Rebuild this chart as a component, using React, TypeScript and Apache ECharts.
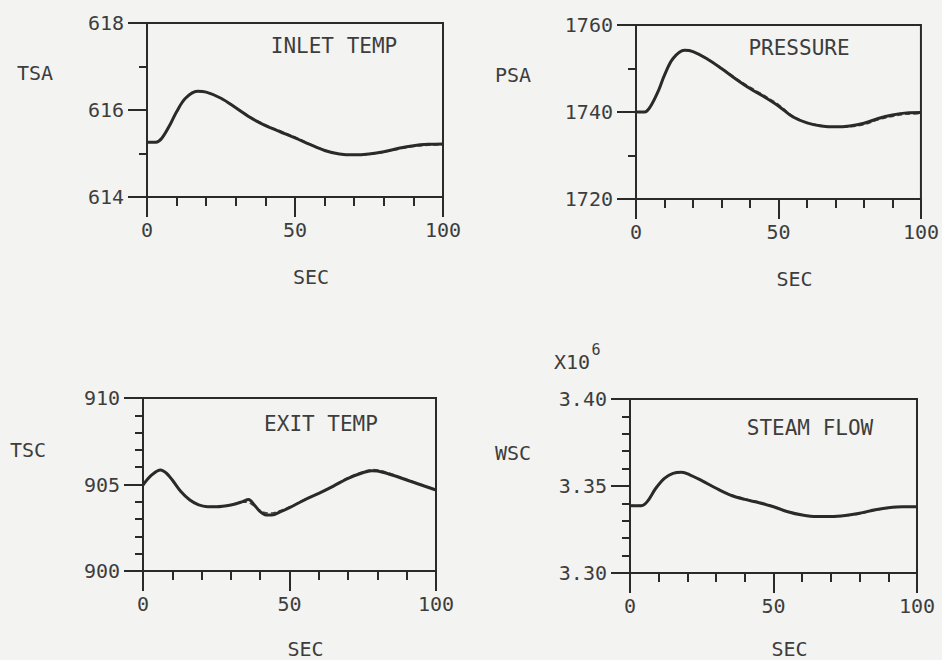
import { useEffect, useRef } from "react";
import * as echarts from "echarts";

const FONT = "DejaVu Sans Mono";
const INK = "#2a2a2a";
const TEXT = "#3d3d3d";
const PAPER = "#f3f3f1";

// Time axis shared by every panel (seconds)
const secTicks = [0, 50, 100];

// Inlet temperature TSA
const tsaSec = [0, 3, 5, 8, 10, 13, 17, 20, 25, 30, 35, 40, 45, 50, 55, 60, 65, 70, 75, 80, 85, 90, 95, 100];
const tsaVal = [615.26, 615.26, 615.35, 615.69, 615.96, 616.27, 616.43, 616.41, 616.27, 616.05, 615.82, 615.64, 615.5, 615.36, 615.21, 615.07, 614.99, 614.97, 614.99, 615.04, 615.12, 615.18, 615.21, 615.22];
const tsaAlt = [615.26, 615.26, 615.35, 615.69, 615.96, 616.27, 616.43, 616.41, 616.27, 616.06, 615.84, 615.66, 615.52, 615.38, 615.22, 615.08, 614.99, 614.96, 614.98, 615.03, 615.1, 615.16, 615.19, 615.2];

// Pressure PSA
const psaSec = [0, 3, 5, 8, 10, 13, 17, 20, 25, 30, 35, 40, 45, 50, 55, 60, 65, 70, 75, 80, 85, 90, 95, 100];
const psaVal = [1740.0, 1740.0, 1741.2, 1745.1, 1748.5, 1752.3, 1754.2, 1753.9, 1752.2, 1750.0, 1747.6, 1745.4, 1743.5, 1741.4, 1738.9, 1737.5, 1736.8, 1736.6, 1736.8, 1737.4, 1738.5, 1739.3, 1739.8, 1739.9];
const psaAlt = [1740.0, 1740.0, 1741.2, 1745.1, 1748.5, 1752.3, 1754.2, 1753.9, 1752.2, 1750.1, 1747.8, 1745.7, 1743.8, 1741.7, 1739.1, 1737.6, 1736.9, 1736.5, 1736.6, 1737.1, 1738.2, 1739.0, 1739.5, 1739.6];

// Exit temperature TSC
const tscSec = [0, 3, 6, 8, 10, 13, 16, 19, 22, 25, 30, 34, 36, 38, 40, 42, 44, 47, 50, 55, 60, 65, 70, 75, 78, 80, 85, 90, 95, 100];
const tscVal = [904.97, 905.55, 905.84, 905.65, 905.26, 904.58, 904.1, 903.82, 903.72, 903.72, 903.82, 904.01, 904.14, 903.82, 903.43, 903.24, 903.24, 903.43, 903.66, 904.1, 904.49, 904.91, 905.36, 905.68, 905.8, 905.78, 905.55, 905.26, 904.97, 904.68];
const tscAlt = [904.97, 905.55, 905.84, 905.65, 905.26, 904.58, 904.1, 903.82, 903.72, 903.72, 903.82, 903.98, 903.95, 903.75, 903.5, 903.36, 903.35, 903.5, 903.7, 904.12, 904.5, 904.93, 905.4, 905.73, 905.86, 905.84, 905.6, 905.3, 905.0, 904.7];

// Steam flow WSC (x 10^6)
const wscSec = [0, 4, 6, 9, 12, 15, 18, 21, 25, 30, 35, 40, 45, 50, 55, 60, 65, 70, 75, 80, 85, 90, 95, 100];
const wscVal = [3.3387, 3.3387, 3.341, 3.3487, 3.3544, 3.3573, 3.3579, 3.3563, 3.3531, 3.3487, 3.3448, 3.3423, 3.3404, 3.3381, 3.3352, 3.3333, 3.3324, 3.3324, 3.333, 3.3343, 3.3362, 3.3375, 3.3381, 3.3381];
const wscAlt = [3.3387, 3.3387, 3.341, 3.3487, 3.3544, 3.3573, 3.3579, 3.3563, 3.3531, 3.3488, 3.3451, 3.3427, 3.3408, 3.3384, 3.3354, 3.3334, 3.3325, 3.3323, 3.3328, 3.334, 3.3359, 3.3373, 3.338, 3.3381];

// Vertical ranges
const tsaRange = { min: 614, max: 618, interval: 2, minorSplit: 2, digits: 0 };
const psaRange = { min: 1720, max: 1760, interval: 20, minorSplit: 2, digits: 0 };
const tscRange = { min: 900, max: 910, interval: 5, minorSplit: 5, digits: 0 };
const wscRange = { min: 3.3, max: 3.4, interval: 0.05, minorSplit: 5, digits: 2 };

const grids = [
  { left: 147, top: 23, width: 296, height: 174 },
  { left: 636, top: 25, width: 285, height: 174 },
  { left: 143, top: 398, width: 293, height: 173 },
  { left: 630, top: 399, width: 287, height: 174 },
];

const pairs = (xs: number[], ys: number[]) => xs.map((x, i) => [x, ys[i]]);

const panels = [
  { sec: tsaSec, val: tsaVal, alt: tsaAlt, range: tsaRange, gap: 70 },
  { sec: psaSec, val: psaVal, alt: psaAlt, range: psaRange, gap: 70 },
  { sec: tscSec, val: tscVal, alt: tscAlt, range: tscRange, gap: 68 },
  { sec: wscSec, val: wscVal, alt: wscAlt, range: wscRange, gap: 66 },
];

const TICK_SIZE = 20;

const label = (text: string, x: number, y: number, size = TICK_SIZE) => ({
  type: "text",
  x,
  y,
  silent: true,
  style: {
    text,
    fill: TEXT,
    font: `${size}px "${FONT}"`,
    textAlign: "center",
    textVerticalAlign: "middle",
  },
});

export default function App() {
  const ref = useRef<HTMLDivElement>(null);

  useEffect(() => {
    if (!ref.current) return;
    const chart = echarts.init(ref.current, undefined, { renderer: "svg" });

    const lineAxis = { lineStyle: { color: INK, width: 2 } };

    const xAxis = panels.map((p, i) => ({
      type: "value",
      gridIndex: i,
      min: 0,
      max: 100,
      interval: 50,
      name: "SEC",
      nameLocation: "middle",
      nameGap: p.gap,
      nameTextStyle: {
        fontFamily: FONT,
        fontSize: TICK_SIZE,
        color: TEXT,
        padding: [0, 0, 0, 32],
      },
      axisLine: lineAxis,
      axisTick: { show: true, length: 20, lineStyle: { color: INK, width: 2 } },
      minorTick: { show: true, splitNumber: 5, length: 9, lineStyle: { color: INK, width: 2 } },
      splitLine: { show: false },
      minorSplitLine: { show: false },
      axisLabel: {
        margin: 23,
        fontFamily: FONT,
        fontSize: TICK_SIZE,
        color: TEXT,
        formatter: (v: number) => (secTicks.includes(v) ? String(v) : ""),
      },
    }));

    const yAxis = panels.map((p, i) => ({
      type: "value",
      gridIndex: i,
      min: p.range.min,
      max: p.range.max,
      interval: p.range.interval,
      axisLine: lineAxis,
      axisTick: { show: true, length: 19, lineStyle: { color: INK, width: 2 } },
      minorTick: {
        show: true,
        splitNumber: p.range.minorSplit,
        length: 8,
        lineStyle: { color: INK, width: 2 },
      },
      splitLine: { show: false },
      minorSplitLine: { show: false },
      axisLabel: {
        margin: 23,
        fontFamily: FONT,
        fontSize: TICK_SIZE,
        color: TEXT,
        formatter: (v: number) => v.toFixed(p.range.digits),
      },
    }));

    const series: any[] = [];
    panels.forEach((p, i) => {
      series.push({
        type: "line",
        xAxisIndex: i,
        yAxisIndex: i,
        data: pairs(p.sec, p.alt),
        smooth: 0.35,
        showSymbol: false,
        lineStyle: { color: "#444", width: 1.6, type: [5, 3] },
        z: 2,
      });
      series.push({
        type: "line",
        xAxisIndex: i,
        yAxisIndex: i,
        data: pairs(p.sec, p.val),
        smooth: 0.35,
        showSymbol: false,
        lineStyle: { color: INK, width: 3 },
        z: 3,
      });
    });

    chart.setOption({
      animation: false,
      backgroundColor: PAPER,
      grid: grids.map((g) => ({
        ...g,
        show: true,
        borderColor: INK,
        borderWidth: 2,
        backgroundColor: "transparent",
      })),
      xAxis,
      yAxis,
      series,
      graphic: [
        label("TSA", 35, 73),
        label("INLET TEMP", 334, 46, 21),
        label("PSA", 513, 75),
        label("PRESSURE", 799, 48, 21),
        label("TSC", 28, 450),
        label("EXIT TEMP", 321, 424, 21),
        label("WSC", 513, 453),
        label("STEAM FLOW", 810, 428, 21),
        label("X10", 572, 362),
        label("6", 596, 350, 15),
      ],
    });

    return () => chart.dispose();
  }, []);

  return (
    <div
      ref={ref}
      style={{ position: "fixed", left: 0, top: 0, width: 942, height: 660 }}
    />
  );
}
